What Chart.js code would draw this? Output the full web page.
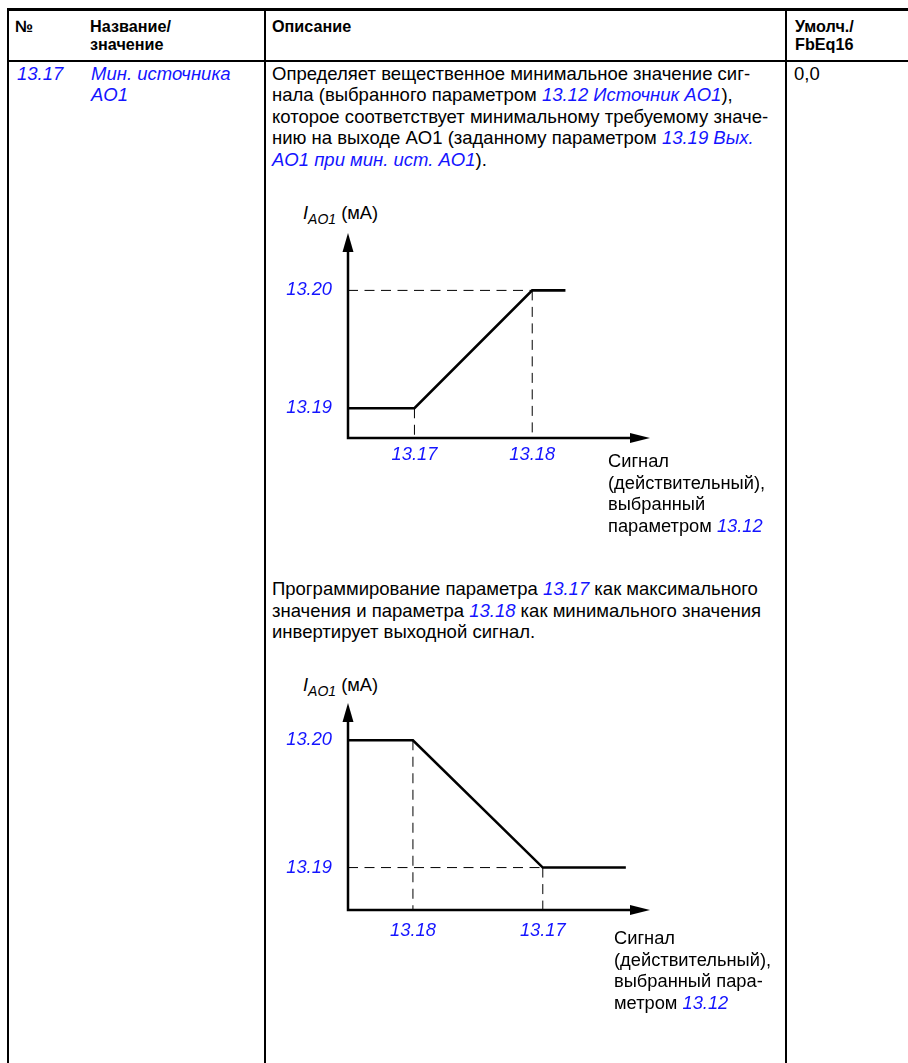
<!DOCTYPE html>
<html lang="ru">
<head>
<meta charset="utf-8">
<title>13.17 Мин. источника AO1</title>
<script src="https://cdn.jsdelivr.net/npm/chart.js@4.4.1/dist/chart.umd.min.js"></script>
<style>
  html, body { margin: 0; padding: 0; background: #fff; }
  body {
    width: 908px; height: 1063px; position: relative; overflow: hidden;
    font-family: "Liberation Sans", Arial, sans-serif; color: #000;
  }
  .linha { position: absolute; background: #000; }
  .cab { position: absolute; white-space: nowrap; font-size: 16.2px; line-height: 17.5px; font-weight: bold; }
  .txt { position: absolute; white-space: nowrap; font-size: 18.5px; line-height: 21.6px; }
  .sig { position: absolute; white-space: nowrap; font-size: 18.3px; line-height: 21.67px; }
  .ref { color: #1414ff; font-style: italic; }
  .sub { font-style: italic; font-size: 14px; position: relative; top: 5px; }
  canvas { position: absolute; }
</style>
</head>
<body>

<!-- линии таблицы -->
<div class="linha" style="left:7px; top:8px; width:901px; height:3px;"></div>
<div class="linha" style="left:7px; top:60px; width:901px; height:2px;"></div>
<div class="linha" style="left:7px; top:8px; width:2px; height:1055px;"></div>
<div class="linha" style="left:264px; top:8px; width:2px; height:1055px;"></div>
<div class="linha" style="left:785px; top:8px; width:2px; height:1055px;"></div>

<!-- шапка -->
<div class="cab" style="left:15px; top:18px;">№</div>
<div class="cab" style="left:90px; top:18px;">Название/<br>значение</div>
<div class="cab" style="left:272px; top:18px;">Описание</div>
<div class="cab" style="left:795px; top:18px;">Умолч./<br>FbEq16</div>

<!-- строка параметра -->
<div class="txt ref" style="left:17px; top:62.5px;">13.17</div>
<div class="txt ref" style="left:91px; top:62.5px;">Мин. источника<br>AO1</div>
<div class="txt" style="left:272px; top:62.5px;">
Определяет вещественное минимальное значение сиг-<br>
нала (выбранного параметром <span class="ref">13.12 Источник AO1</span>),<br>
которое соответствует минимальному требуемому значе-<br>
нию на выходе AO1 (заданному параметром <span class="ref">13.19 Вых.</span><br>
<span class="ref">AO1 при мин. ист. AO1</span>).
</div>
<div class="txt" style="left:794px; top:62.5px;">0,0</div>

<!-- диаграмма 1 -->
<div class="sig" style="left:303px; top:201.5px;"><i>I</i><span class="sub">AO1</span> (мА)</div>
<canvas id="diag1" width="500" height="300" style="left:270px; top:190px;"></canvas>
<div class="sig" style="left:608px; top:450px;">Сигнал<br>(действительный),<br>выбранный<br>параметром <span class="ref">13.12</span></div>

<div class="txt" style="left:272px; top:578px;">
Программирование параметра <span class="ref">13.17</span> как максимального<br>
значения и параметра <span class="ref">13.18</span> как минимального значения<br>
инвертирует выходной сигнал.
</div>

<!-- диаграмма 2 -->
<div class="sig" style="left:303px; top:674px;"><i>I</i><span class="sub">AO1</span> (мА)</div>
<canvas id="diag2" width="500" height="300" style="left:270px; top:660px;"></canvas>
<div class="sig" style="left:614px; top:927px;">Сигнал<br>(действительный),<br>выбранный пара-<br>метром <span class="ref">13.12</span></div>

<script>
// Диаграмма 1: прямая характеристика (13.17 < 13.18)
const rotulosX1 = ['13.17', '13.18'];
const sinalX1 = [2.2, 6.1];
const rotulosY1 = ['13.19', '13.20'];
const saidaY1 = [1.45, 7.2];
const curvaX1 = [0, 2.2, 6.1, 7.2];
const curvaY1 = [1.45, 1.45, 7.2, 7.2];

// Диаграмма 2: инвертированная характеристика (13.17 > 13.18)
const rotulosX2 = ['13.18', '13.17'];
const sinalX2 = [2.15, 6.45];
const rotulosY2 = ['13.19', '13.20'];
const saidaY2 = [2.05, 8.2];
const curvaX2 = [0, 2.15, 6.45, 9.2];
const curvaY2 = [8.2, 8.2, 2.05, 2.05];

const azul = '#1414ff';
const fonteTick = { family: '"Liberation Sans", Arial, sans-serif', size: 18.3, style: 'italic' };

// Оси со стрелками
const eixosPlugin = {
  id: 'eixos',
  beforeDatasetsDraw(chart) {
    const { ctx, chartArea: a } = chart;
    ctx.save();
    ctx.strokeStyle = '#000';
    ctx.fillStyle = '#000';
    ctx.lineWidth = 2.5;
    ctx.beginPath();
    ctx.moveTo(a.left, a.top + 16);
    ctx.lineTo(a.left, a.bottom);
    ctx.lineTo(a.right - 16, a.bottom);
    ctx.stroke();

    // стрелка вверх
    ctx.beginPath();
    ctx.moveTo(a.left, a.top);
    ctx.lineTo(a.left - 5.5, a.top + 19);
    ctx.lineTo(a.left + 5.5, a.top + 19);
    ctx.closePath();
    ctx.fill();

    // стрелка вправо
    ctx.beginPath();
    ctx.moveTo(a.right, a.bottom);
    ctx.lineTo(a.right - 20, a.bottom - 5);
    ctx.lineTo(a.right - 20, a.bottom + 5);
    ctx.closePath();
    ctx.fill();
    ctx.restore();
  }
};

function pontos(xs, ys) {
  return xs.map((x, i) => ({ x: x, y: ys[i] }));
}

function tracejado(dados) {
  return {
    data: dados,
    borderColor: '#000',
    borderWidth: 1,
    borderDash: [10, 6.5],
    pointRadius: 0,
    fill: false
  };
}

function diagrama(id, cfg) {
  const ctx = document.getElementById(id).getContext('2d');

  return new Chart(ctx, {
    type: 'line',
    data: {
      datasets: [
        {
          data: pontos(cfg.curvaX, cfg.curvaY),
          borderColor: '#000',
          borderWidth: 2.6,
          pointRadius: 0,
          fill: false,
          tension: 0
        },
        ...cfg.guias.map(tracejado)
      ]
    },
    options: {
      responsive: false,
      animation: false,
      events: [],
      layout: { padding: { top: cfg.topo, right: 120, left: 0, bottom: 0 } },
      scales: {
        x: {
          type: 'linear',
          min: 0,
          max: 10,
          grid: { display: false, drawTicks: false },
          border: { display: false },
          afterBuildTicks: s => { s.ticks = cfg.sinalX.map(v => ({ value: v })); },
          afterFit: s => { s.height = cfg.alturaX; s.paddingLeft = 0; s.paddingRight = 0; },
          ticks: {
            padding: cfg.padX,
            color: azul,
            font: fonteTick,
            autoSkip: false,
            maxRotation: 0,
            callback: (v, i) => cfg.rotulosX[i]
          }
        },
        y: {
          type: 'linear',
          min: 0,
          max: 10,
          grid: { display: false, drawTicks: false },
          border: { display: false },
          afterBuildTicks: s => { s.ticks = cfg.saidaY.map(v => ({ value: v })); },
          afterFit: s => { s.width = 78; s.paddingTop = 0; s.paddingBottom = 0; },
          ticks: {
            padding: 16,
            color: azul,
            font: fonteTick,
            autoSkip: false,
            callback: (v, i) => cfg.rotulosY[i]
          }
        }
      },
      plugins: {
        legend: { display: false },
        tooltip: { enabled: false }
      }
    },
    plugins: [eixosPlugin]
  });
}

diagrama('diag1', {
  rotulosX: rotulosX1, sinalX: sinalX1,
  rotulosY: rotulosY1, saidaY: saidaY1,
  curvaX: curvaX1, curvaY: curvaY1,
  guias: [
    pontos([0, sinalX1[1]], [saidaY1[1], saidaY1[1]]),
    pontos([sinalX1[1], sinalX1[1]], [saidaY1[1], 0]),
    pontos([sinalX1[0], sinalX1[0]], [saidaY1[0], 0])
  ],
  topo: 43, alturaX: 52, padX: 6
});

diagrama('diag2', {
  rotulosX: rotulosX2, sinalX: sinalX2,
  rotulosY: rotulosY2, saidaY: saidaY2,
  curvaX: curvaX2, curvaY: curvaY2,
  guias: [
    pontos([0, sinalX2[1]], [saidaY2[0], saidaY2[0]]),
    pontos([sinalX2[0], sinalX2[0]], [saidaY2[1], 0]),
    pontos([sinalX2[1], sinalX2[1]], [saidaY2[0], 0])
  ],
  topo: 43, alturaX: 50, padX: 9.5
});
</script>
</body>
</html>
